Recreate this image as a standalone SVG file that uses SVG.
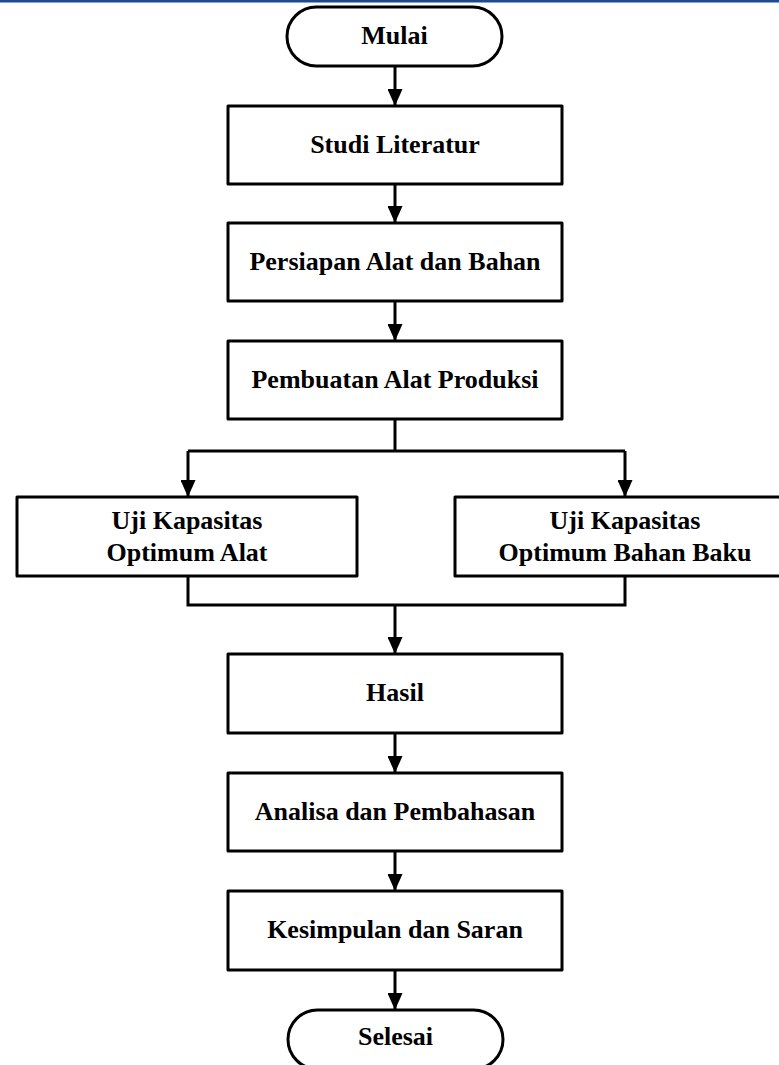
<svg xmlns="http://www.w3.org/2000/svg" width="779" height="1065" viewBox="0 0 779 1065">
<style>
.box{fill:#fff;stroke:#000;stroke-width:3;stroke-linejoin:round}
.lbl{font-family:"Liberation Serif","Times New Roman",serif;font-weight:bold;font-size:26px;fill:#000;text-anchor:middle}
.ln{fill:none;stroke:#000;stroke-width:3}
.arr{fill:none;stroke:#000;stroke-width:3;marker-end:url(#ah)}
</style>
<defs>
<marker id="ah" markerUnits="userSpaceOnUse" markerWidth="17" markerHeight="15" refX="17" refY="7.5" orient="auto">
<path d="M0,0 L17,7.5 L0,15 z" fill="#000"/>
</marker>
</defs>
<rect x="0" y="0" width="779" height="2.5" fill="#1f4b8e"/>
<g id="connectors">
<line class="arr" x1="395" y1="66" x2="395" y2="106"/>
<line class="arr" x1="395" y1="184" x2="395" y2="223"/>
<line class="arr" x1="395" y1="301" x2="395" y2="341"/>
<polyline class="ln" points="395,419 395,451"/>
<polyline class="ln" points="188,451 625,451"/>
<line class="arr" x1="188" y1="451" x2="188" y2="497"/>
<line class="arr" x1="625" y1="451" x2="625" y2="497"/>
<polyline class="ln" points="188,576 188,605 625,605 625,576"/>
<line class="arr" x1="395" y1="605" x2="395" y2="654"/>
<line class="arr" x1="395" y1="733" x2="395" y2="773"/>
<line class="arr" x1="395" y1="851" x2="395" y2="891"/>
<line class="arr" x1="395" y1="970" x2="395" y2="1010"/>
</g>
<g id="mulai">
<rect class="box" x="287" y="7" width="215" height="59" rx="29.5" ry="29.5"/>
<text class="lbl" x="394.5" y="44">Mulai</text>
</g>
<g id="studi">
<rect class="box" x="228" y="106" width="334" height="78"/>
<text class="lbl" x="395" y="153">Studi Literatur</text>
</g>
<g id="persiapan">
<rect class="box" x="228" y="223" width="334" height="78"/>
<text class="lbl" x="395" y="270">Persiapan Alat dan Bahan</text>
</g>
<g id="pembuatan">
<rect class="box" x="228" y="341" width="334" height="78"/>
<text class="lbl" x="395" y="388">Pembuatan Alat Produksi</text>
</g>
<g id="uji-alat">
<rect class="box" x="17" y="497" width="340" height="79"/>
<text class="lbl" x="187" y="529">Uji Kapasitas</text>
<text class="lbl" x="187" y="561">Optimum Alat</text>
</g>
<g id="uji-bahan">
<rect class="box" x="455" y="497" width="340" height="79"/>
<text class="lbl" x="625" y="529">Uji Kapasitas</text>
<text class="lbl" x="625" y="561">Optimum Bahan Baku</text>
</g>
<g id="hasil">
<rect class="box" x="228" y="654" width="334" height="79"/>
<text class="lbl" x="395" y="701">Hasil</text>
</g>
<g id="analisa">
<rect class="box" x="228" y="773" width="334" height="78"/>
<text class="lbl" x="395" y="820">Analisa dan Pembahasan</text>
</g>
<g id="kesimpulan">
<rect class="box" x="228" y="891" width="334" height="79"/>
<text class="lbl" x="395" y="938">Kesimpulan dan Saran</text>
</g>
<g id="selesai">
<rect class="box" x="288" y="1010" width="215" height="59" rx="29.5" ry="29.5"/>
<text class="lbl" x="395.5" y="1045">Selesai</text>
</g>
</svg>
